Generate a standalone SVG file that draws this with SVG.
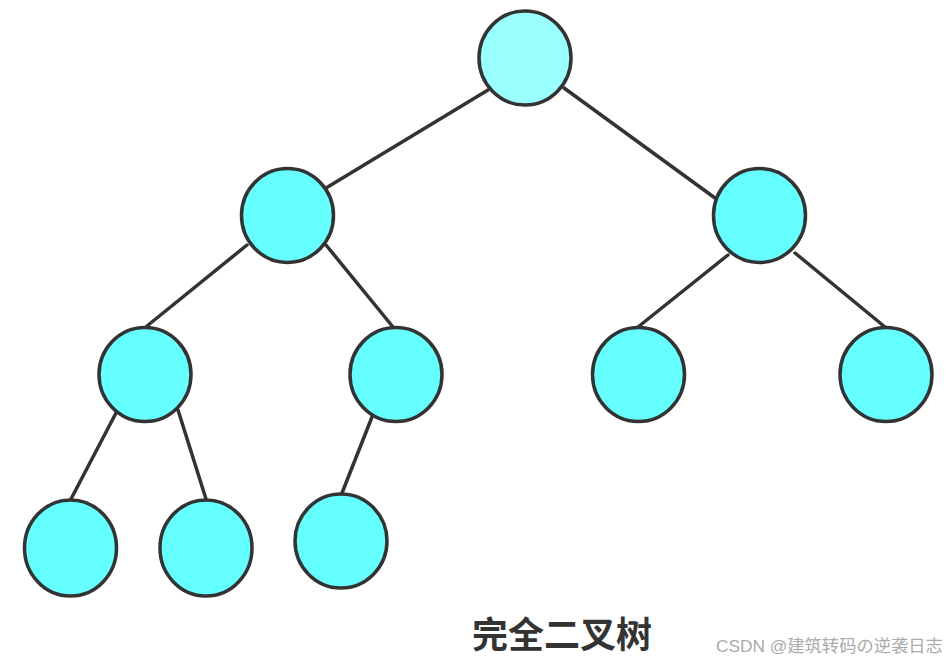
<svg xmlns="http://www.w3.org/2000/svg" width="946" height="660" viewBox="0 0 946 660">
<style>
.edge{stroke:#333;stroke-width:3.5;fill:none;stroke-linecap:round}
.node{fill:#66ffff;stroke:#333;stroke-width:3.5}
.root{fill:#99ffff}
.title{font-family:"Noto Sans CJK SC","Noto Sans",sans-serif;font-weight:bold;font-size:36px;fill:#333}
.wm{font-family:"Liberation Sans","Noto Sans CJK SC",sans-serif;font-size:17.3px;fill:#aaa}
</style>
<rect width="946" height="660" fill="#fff"/>
<g id="connectors">
<line class="edge" x1="488" y1="90" x2="326" y2="188"/>
<line class="edge" x1="564" y1="88" x2="715" y2="198"/>
<line class="edge" x1="247" y1="245" x2="147" y2="326"/>
<line class="edge" x1="326" y1="245" x2="393" y2="327"/>
<line class="edge" x1="728" y1="255" x2="638" y2="327"/>
<line class="edge" x1="795" y1="253" x2="885" y2="327"/>
<line class="edge" x1="116" y1="413" x2="71" y2="499"/>
<line class="edge" x1="178" y1="410" x2="206" y2="499"/>
<line class="edge" x1="372" y1="417" x2="342" y2="493"/>
</g>
<g id="n1"><ellipse class="node root" cx="525" cy="58" rx="46" ry="47"/></g>
<g id="n2"><ellipse class="node" cx="287.5" cy="215.5" rx="46" ry="47"/></g>
<g id="n3"><ellipse class="node" cx="759.5" cy="215.5" rx="46" ry="47"/></g>
<g id="n4"><ellipse class="node" cx="145" cy="374.5" rx="46" ry="47"/></g>
<g id="n5"><ellipse class="node" cx="396" cy="374.5" rx="46" ry="47"/></g>
<g id="n6"><ellipse class="node" cx="638.5" cy="374.5" rx="46" ry="47"/></g>
<g id="n7"><ellipse class="node" cx="886" cy="374.5" rx="46" ry="47"/></g>
<g id="n8"><ellipse class="node" cx="70.5" cy="548" rx="46" ry="48"/></g>
<g id="n9"><ellipse class="node" cx="206" cy="548" rx="46" ry="48"/></g>
<g id="n10"><ellipse class="node" cx="341" cy="541" rx="46" ry="47"/></g>
<text class="title" x="472" y="648">完全二叉树</text>
<text class="wm" x="716" y="652">CSDN @建筑转码の逆袭日志</text>
</svg>
